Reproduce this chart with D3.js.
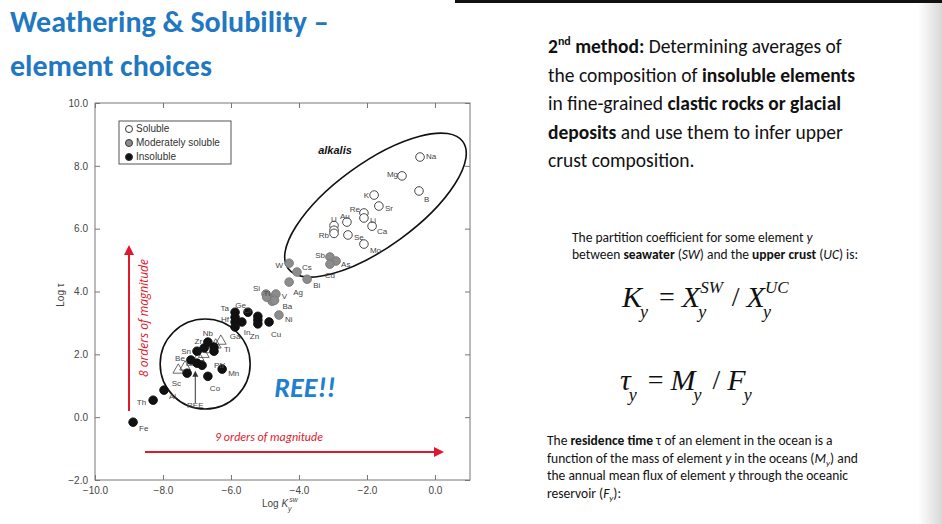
<!DOCTYPE html>
<html><head><meta charset="utf-8">
<script src="https://cdn.jsdelivr.net/npm/d3@7"></script>
<style>
body{margin:0;background:#fff;overflow:hidden}
svg{font-family:"Liberation Sans",Arial,sans-serif}
</style></head><body>
<svg id="c" width="942" height="524"></svg>
<script>
// element data: [label, logK, logTau, labelDx, labelDy, anchor]
var soluble = [
  ["Na",-0.44,8.28,6,-1,"start"],["Mg",-0.97,7.68,-4,-2,"end"],["B",-0.47,7.2,5,8,"start"],
  ["K",-1.79,7.07,-5,0,"end"],["Sr",-1.65,6.72,6,2,"start"],["Re",-2.09,6.5,-4,-4,"end"],
  ["Li",-2.09,6.34,6,2,"start"],["Au",-2.59,6.21,-2,-6,"middle"],["Ca",-1.85,6.08,5,5,"start"],
  ["U",-2.97,6.1,0,-7,"middle"],["",-2.97,5.95,0,0,"start"],["Rb",-2.97,5.85,-5,2,"end"],
  ["Se",-2.56,5.8,6,2,"start"],["Mo",-2.09,5.51,6,6,"start"]
];
var moderate = [
  ["Sb",-3.09,5.1,-5,-2,"end"],["As",-2.91,4.97,5,3,"start"],["Cd",-3.09,4.87,0,11,"middle"],
  ["W",-4.29,4.9,-6,2,"end"],["Cs",-4.06,4.62,5,-5,"start"],["Bi",-3.76,4.39,6,6,"start"],
  ["Ag",-4.29,4.3,4,10,"start"],["Si",-4.97,3.92,-6,-6,"end"],["",-4.85,3.79,0,0,"start"],
  ["Tl",-4.79,3.69,-2,-8,"end"],["V",-4.68,3.92,6,2,"start"],["",-4.95,3.82,0,0,"start"],
  ["Ba",-4.72,3.72,8,6,"start"],["Ni",-4.59,3.25,6,4,"start"]
];
var insoluble = [
  ["Ta",-5.88,3.34,-6,-4,"end"],["Hf",-5.88,3.18,-6,2,"end"],["",-5.88,3.03,0,0,"start"],
  ["Ga",-5.88,2.87,0,9,"middle"],["Ge",-5.5,3.34,-2,-7,"end"],["In",-5.68,3.03,2,10,"start"],
  ["Cr",-5.21,3.21,-6,-6,"end"],["",-5.21,3.09,0,0,"start"],["Zn",-5.21,2.97,-8,12,"start"],
  ["Cu",-4.88,3.03,2,12,"start"],["Fe",-8.88,-0.16,6,6,"start"],["Th",-8.29,0.54,-7,2,"end"],
  ["Al",-7.97,0.86,5,6,"start"],["Sc",-7.29,1.4,-6,10,"end"],["Be",-7.18,1.82,-6,-2,"end"],
  ["",-7.0,1.72,0,0,"start"],["Sn",-7.0,2.1,-6,0,"end"],["Zr",-6.79,2.2,-2,-7,"end"],
  ["Nb",-6.68,2.39,0,-9,"middle"],["Ti",-6.5,2.23,10,2,"start"],["Y",-6.5,2.1,6,14,"start"],
  ["Co",-6.68,1.3,2,12,"start"],["Mn",-6.26,1.53,6,4,"start"],["Pb",-6.85,1.65,12,0,"start"]
];
var ree = [[-7.55,1.5],[-7.35,1.6],[-7.15,1.75],[-6.95,1.9],[-6.8,2.0],[-6.6,2.15],[-6.45,2.3],[-6.3,2.42]];
var xTicks = [-10,-8,-6,-4,-2,0];
var yTicks = [-2,0,2,4,6,8,10];

var svg = d3.select("#c");
var x = d3.scaleLinear().domain([-10,1.03]).range([95,470]);
var y = d3.scaleLinear().domain([-2,10]).range([480,103]);
var sans = "Calibri,Carlito,Lato,'Open Sans',sans-serif";

// titles
svg.append("text").attr("x",10).attr("y",32).attr("fill","#1f78c1").attr("font-family",sans)
  .attr("font-size",30).attr("font-weight","bold").text("Weathering & Solubility –");
svg.append("text").attr("x",10).attr("y",76).attr("fill","#1f78c1").attr("font-family",sans)
  .attr("font-size",30).attr("font-weight","bold").text("element choices");
svg.append("rect").attr("x",455).attr("y",0).attr("width",487).attr("height",3).attr("fill","#111");
var grad = svg.append("defs").append("linearGradient").attr("id","g");
grad.append("stop").attr("offset",0).attr("stop-color","#fff");
grad.append("stop").attr("offset",1).attr("stop-color","#d8d8d8");
svg.append("rect").attr("x",918).attr("y",3).attr("width",24).attr("height",521).attr("fill","url(#g)");

// frame and axes
var g = svg.append("g").attr("font-size",10).attr("fill","#444");
g.append("rect").attr("x",95).attr("y",103).attr("width",375).attr("height",377).attr("fill","none").attr("stroke","#777");
g.append("g").attr("transform","translate(0,480)").call(d3.axisBottom(x).tickValues(xTicks).tickSize(-5).tickFormat(d3.format(".1f")))
  .call(a=>{a.select(".domain").remove();a.selectAll("line").attr("stroke","#777");a.selectAll("text").attr("dy","1.1em").attr("fill","#444").attr("font-size",10).text(d=>d3.format(".1f")(d).replace("-","−"));});
g.append("g").attr("transform","translate(0,103)").call(d3.axisTop(x).tickValues(xTicks).tickSize(-5).tickFormat(""))
  .call(a=>{a.select(".domain").remove();a.selectAll("line").attr("stroke","#777");});
g.append("g").attr("transform","translate(95,0)").call(d3.axisLeft(y).tickValues(yTicks).tickSize(-5))
  .call(a=>{a.select(".domain").remove();a.selectAll("line").attr("stroke","#777");a.selectAll("text").attr("dx","-0.4em").attr("fill","#444").attr("font-size",10).text(d=>d3.format(".1f")(d).replace("-","−"));});
g.append("g").attr("transform","translate(470,0)").call(d3.axisRight(y).tickValues(yTicks).tickSize(-5).tickFormat(""))
  .call(a=>{a.select(".domain").remove();a.selectAll("line").attr("stroke","#777");});
svg.append("text").attr("transform","translate(64,295) rotate(-90)").attr("text-anchor","middle").attr("font-size",10).attr("fill","#444").text("Log τ");
var xl = svg.append("text").attr("x",262).attr("y",507).attr("font-size",10).attr("fill","#444");
xl.append("tspan").text("Log ");
xl.append("tspan").attr("font-style","italic").text("K");
xl.append("tspan").attr("font-size",7).attr("dy",-5).attr("dx",1).attr("font-style","italic").text("sw");
svg.append("text").attr("x",288).attr("y",511).attr("font-size",7).attr("fill","#444").attr("font-style","italic").text("y");

// group outlines
svg.append("circle").attr("cx",x(-6.76)).attr("cy",y(1.69)).attr("r",45).attr("fill","none").attr("stroke","#111").attr("stroke-width",1.6);
svg.append("ellipse").attr("cx",x(-1.75)).attr("cy",y(6.75)).attr("rx",108).attr("ry",42)
  .attr("transform","rotate(-36,"+x(-1.75)+","+y(6.75)+")").attr("fill","none").attr("stroke","#111").attr("stroke-width",1.6);

// REE triangles
svg.selectAll(".ree").data(ree).enter().append("path").attr("class","ree")
  .attr("transform",d=>"translate("+x(d[0])+","+y(d[1])+")").attr("d",d3.symbol(d3.symbolTriangle,50)())
  .attr("fill","none").attr("stroke","#444").attr("stroke-width",0.8);

function drawSet(data, fill, stroke){
  var s = svg.append("g");
  s.selectAll("circle").data(data).enter().append("circle")
    .attr("cx",d=>x(d[1])).attr("cy",d=>y(d[2])).attr("r",4.3).attr("fill",fill).attr("stroke",stroke).attr("stroke-width",0.9);
  s.selectAll("text").data(data).enter().append("text")
    .attr("x",d=>x(d[1])+d[3]).attr("y",d=>y(d[2])+d[4]+3).attr("text-anchor",d=>d[5])
    .attr("font-size",8).attr("fill","#444").text(d=>d[0]);
}
drawSet(soluble,"#fff","#333");
drawSet(moderate,"#8c8c8c","#777");
drawSet(insoluble,"#111","#111");

// REE arrow
svg.append("line").attr("x1",x(-7.05)).attr("x2",x(-7.05)).attr("y1",y(0.45)).attr("y2",y(1.35)).attr("stroke","#333");
svg.append("path").attr("d","M"+x(-7.05)+","+(y(1.35)-4)+"l-3,6h6z").attr("fill","#333");
svg.append("text").attr("x",x(-7.05)).attr("y",y(0.3)).attr("text-anchor","middle").attr("font-size",8).attr("fill","#444").text("REE");

// legend
var lg = svg.append("g");
lg.append("rect").attr("x",119).attr("y",121).attr("width",112).attr("height",43).attr("fill","#fff").attr("stroke","#555");
[["Soluble","#fff"],["Moderately soluble","#8c8c8c"],["Insoluble","#111"]].forEach(function(d,i){
  lg.append("circle").attr("cx",129).attr("cy",129+i*14).attr("r",3.5).attr("fill",d[1]).attr("stroke","#333");
  lg.append("text").attr("x",136).attr("y",132+i*14).attr("font-size",10).attr("fill","#333").text(d[0]);
});

// red arrows
var red = "#e0182d";
svg.append("line").attr("x1",129).attr("x2",129).attr("y1",411).attr("y2",254).attr("stroke",red).attr("stroke-width",2);
svg.append("path").attr("d","M129,245l-5,10h10z").attr("fill",red);
svg.append("text").attr("transform","translate(148,318) rotate(-90)").attr("text-anchor","middle").attr("font-size",12)
  .attr("font-style","italic").attr("fill",red).attr("font-family","'Open Sans',sans-serif").text("8 orders of magnitude");
svg.append("line").attr("x1",145).attr("x2",436).attr("y1",452).attr("y2",452).attr("stroke",red).attr("stroke-width",2);
svg.append("path").attr("d","M444,452l-10,-5v10z").attr("fill",red);
svg.append("text").attr("x",269).attr("y",441).attr("text-anchor","middle").attr("font-size",12)
  .attr("font-style","italic").attr("fill",red).attr("font-family",sans).text("9 orders of magnitude");
svg.append("text").attr("x",305).attr("y",397).attr("text-anchor","middle").attr("font-size",28).attr("font-weight","bold")
  .attr("font-style","italic").attr("fill","#1f7fd0").attr("font-family",sans).text("REE!!");
svg.append("text").attr("x",335).attr("y",154).attr("text-anchor","middle").attr("font-size",11).attr("font-weight","bold")
  .attr("font-style","italic").attr("fill","#111").text("alkalis");

// right-hand text
var body = svg.append("g").attr("font-family",sans).attr("fill","#111");
var para1 = [
  [["2",1],["nd",1,"sup"],[" method:",1],[" Determining averages of",0]],
  [["the composition of ",0],["insoluble elements",1]],
  [["in fine-grained ",0],["clastic rocks or glacial",1]],
  [["deposits",1],[" and use them to infer upper",0]],
  [["crust composition.",0]]
];
para1.forEach(function(line,i){
  var t = body.append("text").attr("x",548).attr("y",53+i*28.5).attr("font-size",19.5);
  line.forEach(function(p){
    var s = t.append("tspan").attr("font-weight",p[1]?"bold":"normal").text(p[0]);
    if(p[2]){s.attr("font-size",12).attr("dy",-8);} else if(p[0]==" method:"){s.attr("dy",8);}
  });
});
var para2 = [
  [["The partition coefficient for some element ",0],["y",2]],
  [["between ",0],["seawater",1],[" (",0],["SW",2],[") and the ",0],["upper crust",1],[" (",0],["UC",2],[") is:",0]]
];
para2.forEach(function(line,i){
  var t = body.append("text").attr("x",572).attr("y",242+i*17).attr("font-size",13.5);
  line.forEach(function(p){ t.append("tspan").attr("font-weight",p[1]==1?"bold":"normal").attr("font-style",p[1]==2?"italic":"normal").text(p[0]); });
});
var para3 = [
  [["The ",0],["residence time",1],[" τ of an element in the ocean is a",0]],
  [["function of the mass of element ",0],["y",2],[" in the oceans (",0],["M",2],["y",3],[") and",0]],
  [["the annual mean flux of element ",0],["y",2],[" through the oceanic",0]],
  [["reservoir (",0],["F",2],["y",3],["):",0]]
];
para3.forEach(function(line,i){
  var t = body.append("text").attr("x",547).attr("y",445+i*17.5).attr("font-size",13.5);
  line.forEach(function(p){
    var s=t.append("tspan").attr("font-weight",p[1]==1?"bold":"normal").attr("font-style",p[1]>=2?"italic":"normal").text(p[0]);
    if(p[1]==3){s.attr("font-size",9).attr("dy",3);}
    if(p[1]==0 && p[0][0]==")"){s.attr("dy",-3);}
  });
});

// formulas: sequence of [text, kind] where kind m=main, s=sub, u=sup(stacked over previous sub), o=operator
var serif = "'Liberation Serif','DejaVu Serif',serif";
function formula(xp, yp, parts){
  var cx = xp, lastX = xp;
  parts.forEach(function(p){
    var t = svg.append("text").attr("font-family",serif).attr("fill","#111").text(p[0]);
    if(p[1]=="m"){t.attr("font-size",30).attr("font-style","italic").attr("x",cx).attr("y",yp);}
    else if(p[1]=="o"){t.attr("font-size",28).attr("x",cx+9).attr("y",yp-1);}
    else if(p[1]=="s"){t.attr("font-size",18).attr("font-style","italic").attr("x",cx-2).attr("y",yp+11); lastX = cx-2;}
    else if(p[1]=="u"){t.attr("font-size",17).attr("font-style","italic").attr("x",lastX+2).attr("y",yp-14);}
    var w = t.node().getComputedTextLength();
    if(p[1]=="m") cx += w;
    else if(p[1]=="o") cx += w + 16;
    else if(p[1]=="s") cx = cx - 2 + w + 2;
    else if(p[1]=="u") cx = Math.max(cx, lastX + 2 + w);
  });
}
formula(622,307,[["K","m"],["y","s"],["=","o"],["X","m"],["y","s"],["SW","u"],["/","o"],["X","m"],["y","s"],["UC","u"]]);
formula(620,390,[["τ","m"],["y","s"],["=","o"],["M","m"],["y","s"],["/","o"],["F","m"],["y","s"]]);
</script></body></html>
